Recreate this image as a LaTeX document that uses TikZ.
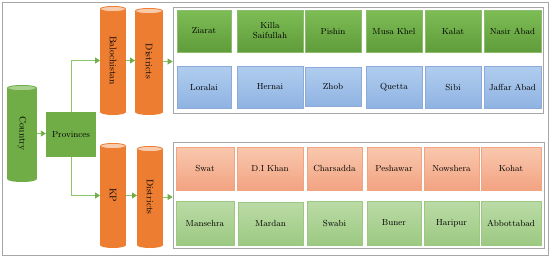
\documentclass[tikz,border=0pt]{standalone}
\usetikzlibrary{arrows.meta}
\definecolor{dgreen}{HTML}{70AD47}
\definecolor{dgreenT}{HTML}{7DBD55}
\definecolor{dgreenB}{HTML}{609C3B}
\definecolor{capgreen}{HTML}{A9D18E}
\definecolor{blueT}{HTML}{B0CDEE}
\definecolor{blueB}{HTML}{8FB3E2}
\definecolor{blueE}{HTML}{8EAADB}
\definecolor{salT}{HTML}{F9C8AE}
\definecolor{salB}{HTML}{F2A382}
\definecolor{lgT}{HTML}{BBDBA6}
\definecolor{lgB}{HTML}{9CC982}
\definecolor{orng}{HTML}{ED7D31}
\definecolor{orcap}{HTML}{F8CBAD}
\definecolor{lineg}{HTML}{8CC46A}
\definecolor{frame}{HTML}{A6A6A6}
\tikzset{
  cellbase/.style={inner sep=1pt, align=center, line width=0.4pt},
  dgcell/.style={cellbase, top color=dgreenT, bottom color=dgreenB, draw=dgreen!80!white},
  blcell/.style={cellbase, top color=blueT, bottom color=blueB, draw=blueE},
  sacell/.style={cellbase, top color=salT, bottom color=salB, draw=salB},
  lgcell/.style={cellbase, top color=lgT, bottom color=lgB, draw=lgB},
  framebox/.style={draw=frame, line width=0.8pt, fill=white, inner sep=0pt},
  cylbody/.style={inner sep=0pt, outer sep=0pt},
  cyltext/.style={rotate=-90, font=\fontsize{9.5}{10.5}\selectfont},
  arr/.style={draw=lineg, line width=0.9pt, -{Triangle[length=5pt,width=6pt,fill=dgreen,color=dgreen]}},
}
\newcommand\cellbox[7]{%
  \node[#1, minimum width={(#4)-(#3)}, minimum height={(#6)-(#5)}] (#2)
    at ({((#3)+(#4))/2},{((#5)+(#6))/2}) {#7};}
% name, cx, ytop, ybot, width, bodycolor, capcolor, text
\newcommand\mycyl[8]{%
  \fill[#6] (#2,#4) ellipse [x radius={(#5)/2*1pt}, y radius=3pt];
  \node[cylbody, fill=#6, minimum width={#5}, minimum height={(#4)-(#3)}] (#1)
    at (#2,{((#3)+(#4))/2}) {};
  \filldraw[fill=#7, draw=#6, line width=0.8pt] (#2,#3) ellipse [x radius={(#5)/2*1pt-0.4pt}, y radius=2.6pt];
  \node[cyltext] (#1t) at (#1.center) {#8};}
\begin{document}
\begin{tikzpicture}[x=1pt, y=-1pt, font=\fontsize{8.8}{10}\selectfont]
\useasboundingbox (0,0) rectangle (550,257);
\draw[frame, line width=0.8pt] (2,2) rectangle (548,255);

% cylinders
\mycyl{cty}{22}{88}{179}{30}{dgreen}{capgreen}{Country}
\mycyl{bal}{113}{9}{112}{26}{orng}{orcap}{Balochistan}
\mycyl{dsa}{149}{11}{112}{28}{orng}{orcap}{Districts}
\mycyl{kp}{113}{146}{245}{26}{orng}{orcap}{KP}
\mycyl{dsb}{150}{149}{245}{26}{orng}{orcap}{Districts}

% provinces
\node[fill=dgreen, minimum width=50, minimum height=45, inner sep=0pt] (prov) at (71,134.5) {Provinces};

% frames
\node[framebox, minimum width=370, minimum height=106] (fa) at (358,60) {};
\node[framebox, minimum width=371, minimum height=106] (fb) at (358.5,195) {};

% top rows
\cellbox{dgcell}{z1}{177}{231}{10}{52}{Ziarat}
\cellbox{dgcell}{z2}{237}{303}{10}{52}{Killa\\Saifullah}
\cellbox{dgcell}{z3}{305}{361}{10}{52}{Pishin}
\cellbox{dgcell}{z4}{366}{422}{10}{52}{Musa Khel}
\cellbox{dgcell}{z5}{425}{481}{10}{52}{Kalat}
\cellbox{dgcell}{z6}{484}{541}{10}{52}{Nasir Abad}
\cellbox{blcell}{b1}{177}{231}{66}{108}{Loralai}
\cellbox{blcell}{b2}{237}{303}{66}{108}{Hernai}
\cellbox{blcell}{b3}{305}{361}{67}{106}{Zhob}
\cellbox{blcell}{b4}{366}{422}{66}{108}{Quetta}
\cellbox{blcell}{b5}{425}{481}{66}{108}{Sibi}
\cellbox{blcell}{b6}{484}{541}{66}{108}{Jaffar Abad}

% bottom rows
\cellbox{sacell}{s1}{176}{234}{147}{190}{Swat}
\cellbox{sacell}{s2}{237}{303}{147}{190}{D.I Khan}
\cellbox{sacell}{s3}{307}{362}{147}{190}{Charsadda}
\cellbox{sacell}{s4}{367}{421}{147}{190}{Peshawar}
\cellbox{sacell}{s5}{424}{479}{147}{190}{Nowshera}
\cellbox{sacell}{s6}{481}{541}{147}{190}{Kohat}
\cellbox{lgcell}{g1}{176}{234}{201}{245}{Mansehra}
\cellbox{lgcell}{g2}{238}{303}{202}{245}{Mardan}
\cellbox{lgcell}{g3}{307}{362}{201}{245}{Swabi}
\cellbox{lgcell}{g4}{367}{421}{201}{245}{Buner}
\cellbox{lgcell}{g5}{424}{479}{201}{245}{Haripur}
\cellbox{lgcell}{g6}{481}{541}{201}{245}{Abbottabad}

% connectors
\draw[arr] (cty.east) -- (cty.east -| prov.west);
\draw[arr] (prov.north) |- (bal.west);
\draw[arr] (prov.south) |- (kp.west);
\draw[arr] (bal.east) -- (bal.east -| dsa.west);
\draw[arr] (kp.east) -- (kp.east -| dsb.west);
\draw[arr] (dsa.east) -- (dsa.east -| fa.west);
\draw[arr] (dsb.east) -- (dsb.east -| fb.west);
\end{tikzpicture}
\end{document}
